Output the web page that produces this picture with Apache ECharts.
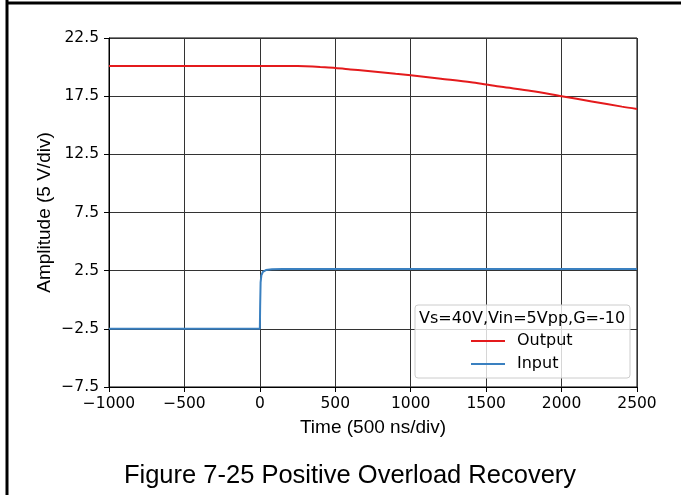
<!DOCTYPE html>
<html><head><meta charset="utf-8">
<script src="https://cdn.jsdelivr.net/npm/echarts@6/dist/echarts.min.js"></script>
<style>html,body{margin:0;padding:0;background:#fff}#c{width:681px;height:495px}</style>
</head><body><div id="c"></div>
<script>
const outT = [-1000, -500, 0, 100, 200, 250, 300, 400, 500, 600, 700, 800, 900, 1000, 1200, 1400, 1500, 1600, 1800, 2000, 2200, 2400, 2500];
const outV = [20.1, 20.1, 20.1, 20.1, 20.1, 20.1, 20.08, 20.0, 19.92, 19.8, 19.68, 19.56, 19.43, 19.3, 19.0, 18.7, 18.5, 18.3, 17.95, 17.5, 17.05, 16.6, 16.4];
const inT = [-1000, 0, 2, 5, 10, 20, 40, 80, 150, 2500];
const inV = [-2.5, -2.5, -0.5, 1.5, 2.1, 2.4, 2.55, 2.62, 2.64, 2.64];
const seriesNames = ['Output', 'Input'];
const legendTitle = 'Vs=40V,Vin=5Vpp,G=-10';
const xName = 'Time (500 ns/div)';
const yName = 'Amplitude (5 V/div)';
const figTitle = 'Figure 7-25 Positive Overload Recovery';

const chart = echarts.init(document.getElementById('c'), null, {renderer: 'canvas'});
const minus = v => String(v).replace('-', '\u2212');
const tickFont = {fontFamily: 'DejaVu Sans', fontSize: 15.5, color: '#000'};
chart.setOption({
  animation: false,
  backgroundColor: '#fff',
  grid: {left: 109, top: 38, width: 528, height: 349, show: true, borderColor: '#000', borderWidth: 1},
  xAxis: {
    type: 'value', min: -1000, max: 2500, interval: 500,
    name: xName, nameLocation: 'middle', nameGap: 31, nameMoveOverlap: false,
    nameTextStyle: {fontFamily: 'Liberation Sans', fontSize: 19, color: '#000'},
    axisLine: {show: true, onZero: false, lineStyle: {color: '#000'}},
    axisTick: {show: true, length: 5, lineStyle: {color: '#000'}},
    axisLabel: Object.assign({margin: 9, formatter: v => minus(v)}, tickFont),
    splitLine: {show: true, lineStyle: {color: '#333', width: 1}}
  },
  yAxis: {
    type: 'value', min: -7.5, max: 22.5, interval: 5,
    name: yName, nameLocation: 'middle', nameGap: 55, nameMoveOverlap: false,
    nameTextStyle: {fontFamily: 'Liberation Sans', fontSize: 19, color: '#000'},
    axisLine: {show: true, onZero: false, lineStyle: {color: '#000'}},
    axisTick: {show: true, length: 5, lineStyle: {color: '#000'}},
    axisLabel: Object.assign({margin: 10, formatter: v => minus(v.toFixed(1))}, tickFont),
    splitLine: {show: true, lineStyle: {color: '#333', width: 1}}
  },
  legend: {
    orient: 'vertical', left: 466, top: 327, itemGap: 5, itemWidth: 34, itemHeight: 2,
    icon: 'rect', z: 20,
    data: seriesNames,
    textStyle: {fontFamily: 'DejaVu Sans', fontSize: 16, lineHeight: 18, color: '#000', padding: [0, 0, 0, 7]}
  },
  graphic: [
    {type: 'line', shape: {x1: 7, y1: 0, x2: 7, y2: 495}, style: {stroke: '#000', lineWidth: 3}, z: 100},
    {type: 'line', shape: {x1: 6, y1: 3, x2: 681, y2: 3}, style: {stroke: '#000', lineWidth: 3}, z: 100},
    {type: 'rect', shape: {x: 415, y: 305, width: 215, height: 73, r: 3},
     style: {fill: 'rgba(255,255,255,0.8)', stroke: '#ccc', lineWidth: 1}, z: 5},
    {type: 'text', x: 522, y: 319, style: {text: legendTitle, fontFamily: 'DejaVu Sans', fontSize: 16, fill: '#000', textAlign: 'center', textVerticalAlign: 'middle'}, z: 6},
    {type: 'text', x: 350, y: 476, style: {text: figTitle, fontFamily: 'Liberation Sans', fontSize: 25.5, fill: '#000', textAlign: 'center', textVerticalAlign: 'middle'}, z: 6}
  ],
  series: [
    {name: seriesNames[0], type: 'line', symbol: 'none', data: outT.map((t, i) => [t, outV[i]]),
     lineStyle: {color: '#e41a1c', width: 2}, itemStyle: {color: '#e41a1c'}, z: 3, smooth: 0.3},
    {name: seriesNames[1], type: 'line', symbol: 'none', data: inT.map((t, i) => [t, inV[i]]),
     lineStyle: {color: '#3a80c0', width: 2}, itemStyle: {color: '#3a80c0'}, z: 3}
  ]
});
</script></body></html>
